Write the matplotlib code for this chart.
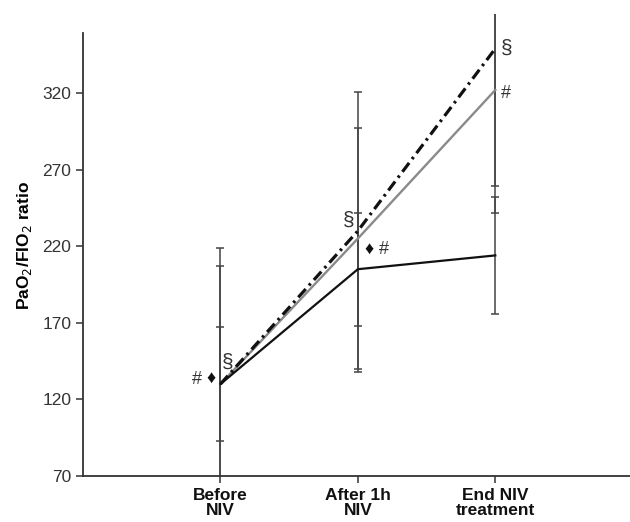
import matplotlib
matplotlib.use("Agg")
import matplotlib.pyplot as plt
import numpy as np

plt.rcParams['font.family'] = ['Liberation Sans', 'DejaVu Sans']

categories = ["Before\nNIV", "After 1h\nNIV", "End NIV\ntreatment"]
x_pos = [1, 2, 3]

# series means
black_mean = [130, 205, 214]
gray_mean = [130, 225, 322]
dashdot_mean = [130, 230, 349]

# error bar ends (lower, upper)
black_low = [93, 168, 176]
black_high = [167, 242, 252]
gray_low = [53, 140, 259]
gray_high = [207, 297, 385]
dashdot_low = [41, 138, 242]
dashdot_high = [219, 321, 456]

yticks = [70, 120, 170, 220, 270, 320]

fig = plt.figure(figsize=(6.3, 5.22), dpi=100)
ax = fig.add_axes([0.1317, 0.0881, 0.8683, 0.8851])

err_color = '#444444'
for mean, lo, hi in [(dashdot_mean, dashdot_low, dashdot_high),
                     (gray_mean, gray_low, gray_high),
                     (black_mean, black_low, black_high)]:
    m = np.array(mean, float)
    yerr = np.vstack([m - np.array(lo), np.array(hi) - m])
    ax.errorbar(x_pos, m, yerr=yerr, fmt='none', ecolor=err_color,
                elinewidth=1.1, capsize=3, capthick=1.1, zorder=1)

ax.plot(x_pos, gray_mean, color='#8a8a8a', lw=1.7, zorder=3)
ax.plot(x_pos, black_mean, color='#111111', lw=1.6, zorder=3)
ax.plot(x_pos, dashdot_mean, color='#111111', lw=2.3, zorder=4,
        dashes=(3.5, 1.5, 0.8, 1.5))

ax.set_xlim(0, 3.98)
ax.set_ylim(70, 371.6)
ax.spines['top'].set_visible(False)
ax.spines['right'].set_visible(False)
ax.spines['left'].set_bounds(70, 359)
for s in ['left', 'bottom']:
    ax.spines[s].set_color('#333333')
    ax.spines[s].set_linewidth(1.3)

ax.set_yticks(yticks)
ax.set_yticklabels([str(v) for v in yticks], fontsize=12.5, color='#333333')
ax.set_xticks(x_pos)
ax.set_xticklabels(categories, fontsize=12.5, fontweight='bold', color='#111111',
                   linespacing=1.02)
ax.tick_params(axis='both', colors='#333333', length=5, width=1.1)
ax.tick_params(axis='y', labelcolor='#333333')
ax.tick_params(axis='x', labelcolor='#111111', pad=3.5)

ax.set_ylabel("PaO$_2$/FIO$_2$ ratio", fontsize=12.5, fontweight='bold', labelpad=6)

# annotations
tk = dict(fontsize=13, color='#333333', ha='center', va='center')
sk = dict(fontsize=15, color='#333333', ha='center', va='center')
dk = dict(fontsize=13, color='#111111', ha='center', va='center')
ax.text(0.83, 133, '#', **tk)
ax.text(0.93, 134, '\u2666', **dk)
ax.text(1.05, 144, '\u00a7', **sk)
ax.text(1.93, 237, '\u00a7', **sk)
ax.text(2.08, 218, '\u2666', **dk)
ax.text(2.19, 218, '#', **tk)
ax.text(3.08, 349, '\u00a7', **sk)
ax.text(3.08, 320, '#', **tk)

fig.savefig('out.png', dpi=100)
